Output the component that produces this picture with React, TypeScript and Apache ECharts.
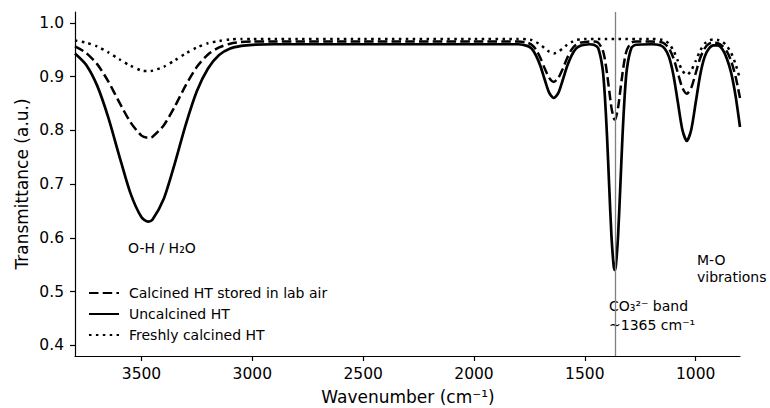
import React, { useEffect, useRef } from "react";
import * as echarts from "echarts";

const wavenumbers = [
  3800, 3750, 3700, 3650, 3600, 3550, 3500, 3470, 3450, 3400, 3350, 3300, 3250, 3200, 3150, 3100, 3050, 3000,
  2900, 2500, 2000, 1800, 1760, 1740, 1720, 1700, 1680, 1660, 1640, 1620, 1600, 1580, 1560, 1540, 1520, 1500,
  1480, 1460, 1440, 1420, 1410, 1400, 1390, 1380, 1370, 1365, 1360, 1350, 1340, 1330, 1320, 1310, 1290, 1270,
  1200, 1160, 1140, 1120, 1100, 1080, 1060, 1040, 1020, 1000, 980, 960, 940, 920, 900, 880, 860, 840, 820, 800,
];

const storedInAir = [
  0.956, 0.944, 0.923, 0.891, 0.852, 0.815, 0.790, 0.786, 0.788, 0.809, 0.844, 0.884, 0.918, 0.941, 0.954, 0.961, 0.964, 0.965,
  0.965, 0.965, 0.965, 0.965, 0.963, 0.959, 0.950, 0.934, 0.914, 0.897, 0.890, 0.897, 0.914, 0.934, 0.950, 0.959, 0.963, 0.964,
  0.965, 0.965, 0.963, 0.950, 0.933, 0.906, 0.874, 0.842, 0.823, 0.820, 0.823, 0.842, 0.874, 0.906, 0.933, 0.950, 0.963, 0.965,
  0.965, 0.964, 0.961, 0.952, 0.934, 0.906, 0.879, 0.868, 0.879, 0.906, 0.934, 0.952, 0.961, 0.963, 0.962, 0.957, 0.947, 0.929, 0.900, 0.860,
];

const uncalcined = [
  0.943, 0.922, 0.883, 0.824, 0.752, 0.683, 0.638, 0.630, 0.634, 0.672, 0.738, 0.811, 0.873, 0.915, 0.940, 0.952, 0.957, 0.959,
  0.960, 0.960, 0.960, 0.960, 0.957, 0.952, 0.939, 0.919, 0.893, 0.869, 0.860, 0.869, 0.893, 0.919, 0.939, 0.952, 0.957, 0.959,
  0.960, 0.959, 0.953, 0.915, 0.866, 0.790, 0.695, 0.604, 0.548, 0.540, 0.548, 0.604, 0.695, 0.790, 0.866, 0.915, 0.953, 0.959,
  0.960, 0.958, 0.952, 0.936, 0.902, 0.851, 0.801, 0.780, 0.801, 0.851, 0.902, 0.936, 0.952, 0.958, 0.958, 0.951, 0.934, 0.907, 0.864, 0.806,
];

const freshlyCalcined = [
  0.967, 0.963, 0.956, 0.945, 0.932, 0.920, 0.911, 0.910, 0.911, 0.918, 0.930, 0.943, 0.954, 0.962, 0.966, 0.969, 0.970, 0.970,
  0.970, 0.970, 0.970, 0.970, 0.969, 0.968, 0.964, 0.959, 0.952, 0.946, 0.943, 0.946, 0.952, 0.959, 0.964, 0.968, 0.969, 0.970,
  0.970, 0.970, 0.970, 0.970, 0.970, 0.970, 0.970, 0.970, 0.970, 0.970, 0.970, 0.970, 0.970, 0.970, 0.970, 0.970, 0.970, 0.970,
  0.970, 0.969, 0.967, 0.961, 0.948, 0.929, 0.911, 0.903, 0.911, 0.929, 0.948, 0.961, 0.967, 0.969, 0.968, 0.965, 0.957, 0.944, 0.923, 0.895,
];

const seriesNames = ["Calcined HT stored in lab air", "Uncalcined HT", "Freshly calcined HT"];
const xTicks = [1000, 1500, 2000, 2500, 3000, 3500];
const yTicks = [0.4, 0.5, 0.6, 0.7, 0.8, 0.9, 1.0];
const carbonateBand = 1365;

const FONT = "DejaVu Sans";

function pairs(ys: number[]) {
  return wavenumbers.map((w, i) => [w, ys[i]]);
}

export default function App() {
  const ref = useRef<HTMLDivElement>(null);
  useEffect(() => {
    if (!ref.current) return;
    const chart = echarts.init(ref.current, undefined, { renderer: "svg" });
    const lw = 2.5;
    const option: any = {
      animation: false,
      backgroundColor: "#fff",
      textStyle: { fontFamily: FONT },
      grid: { left: 75, right: 30, top: 12, bottom: 52, containLabel: false },
      xAxis: {
        type: "value",
        inverse: true,
        min: 800,
        max: 3800,
        axisLine: { show: true, onZero: false, lineStyle: { color: "#000", width: 1.2 } },
        axisTick: { show: true, customValues: xTicks, length: 5, lineStyle: { color: "#000", width: 1.2 } },
        axisLabel: {
          customValues: xTicks,
          margin: 10,
          fontFamily: FONT,
          fontSize: 15.5,
          color: "#000",
          formatter: (v: number) => String(v),
        },
        splitLine: { show: false },
      },
      yAxis: {
        type: "value",
        min: 0.38,
        max: 1.02,
        axisLine: { show: true, onZero: false, lineStyle: { color: "#000", width: 1.2 } },
        axisTick: { show: true, customValues: yTicks, length: 5, lineStyle: { color: "#000", width: 1.2 } },
        axisLabel: {
          customValues: yTicks,
          margin: 11,
          fontFamily: FONT,
          fontSize: 15.5,
          color: "#000",
          formatter: (v: number) => v.toFixed(1),
        },
        splitLine: { show: false },
      },
      legend: {
        orient: "vertical",
        left: 83,
        top: 281,
        itemWidth: 30,
        itemHeight: 14,
        itemGap: 7,
        itemStyle: { opacity: 0 },
        textStyle: { fontFamily: FONT, fontSize: 14, color: "#000", lineHeight: 14, padding: [0, 0, 0, 5] },
        data: seriesNames,
      },
      series: [
        {
          name: seriesNames[0],
          type: "line",
          data: pairs(storedInAir),
          symbol: "none",
          smooth: 0.25,
          lineStyle: { color: "#000", width: lw, type: [9.5, 4.2], cap: "butt" },
          itemStyle: { color: "#000" },
          z: 3,
          markLine: {
            silent: true,
            symbol: "none",
            label: { show: false },
            lineStyle: { color: "#808080", width: 1.3, type: "solid" },
            data: [{ xAxis: carbonateBand }],
          },
        },
        {
          name: seriesNames[1],
          type: "line",
          data: pairs(uncalcined),
          symbol: "none",
          smooth: 0.25,
          lineStyle: { color: "#000", width: 2.7, type: "solid" },
          itemStyle: { color: "#000" },
          z: 2,
        },
        {
          name: seriesNames[2],
          type: "line",
          data: pairs(freshlyCalcined),
          symbol: "none",
          smooth: 0.25,
          lineStyle: { color: "#000", width: lw, type: [2.5, 4.4], cap: "butt" },
          itemStyle: { color: "#000" },
          z: 4,
        },
      ],
      graphic: [
        {
          type: "text",
          x: 22,
          y: 184,
          rotation: Math.PI / 2,
          style: {
            text: "Transmittance (a.u.)",
            font: `17px "${FONT}"`,
            fill: "#000",
            align: "center",
            verticalAlign: "middle",
          },
        },
        {
          type: "text",
          x: 408,
          y: 397,
          style: {
            text: "Wavenumber (cm⁻¹)",
            font: `17px "${FONT}"`,
            fill: "#000",
            align: "center",
            verticalAlign: "middle",
          },
        },
        {
          type: "text",
          x: 128,
          y: 248,
          style: { text: "O-H / H₂O", font: `14px "${FONT}"`, fill: "#000", align: "left", verticalAlign: "middle" },
        },
        {
          type: "text",
          x: 609,
          y: 306,
          style: { text: "CO₃²⁻ band", font: `14px "${FONT}"`, fill: "#000", align: "left", verticalAlign: "middle" },
        },
        {
          type: "text",
          x: 609,
          y: 325,
          style: { text: "~1365 cm⁻¹", font: `14px "${FONT}"`, fill: "#000", align: "left", verticalAlign: "middle" },
        },
        {
          type: "text",
          x: 697,
          y: 260,
          style: { text: "M-O", font: `14px "${FONT}"`, fill: "#000", align: "left", verticalAlign: "middle" },
        },
        {
          type: "text",
          x: 697,
          y: 277,
          style: { text: "vibrations", font: `14px "${FONT}"`, fill: "#000", align: "left", verticalAlign: "middle" },
        },
      ],
    };
    chart.setOption(option);
    return () => chart.dispose();
  }, []);
  return (
    <div
      ref={ref}
      style={{ position: "fixed", left: 0, top: 0, width: 770, height: 408, background: "#fff" }}
    />
  );
}
